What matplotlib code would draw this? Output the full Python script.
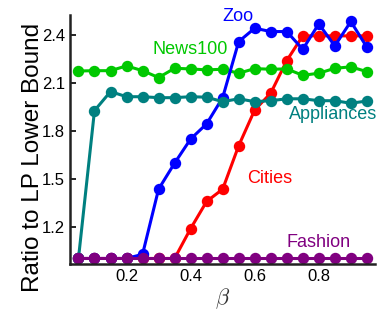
import numpy as np
import matplotlib
matplotlib.use("Agg")
import matplotlib.pyplot as plt

plt.rcParams['font.family'] = ['Liberation Sans', 'DejaVu Sans']
plt.rcParams['mathtext.fontset'] = 'cm'

beta = [0.05, 0.10, 0.15, 0.20, 0.25, 0.30, 0.35, 0.40, 0.45, 0.50,
        0.55, 0.60, 0.65, 0.70, 0.75, 0.80, 0.85, 0.90, 0.95]

cities = [1.0, 1.0, 1.0, 1.0, 1.0, 1.0, 1.0, 1.187, 1.357, 1.434,
          1.706, 1.93, 2.035, 2.239, 2.394, 2.394, 2.394, 2.394, 2.394]
news100 = [2.174, 2.176, 2.176, 2.206, 2.176, 2.133, 2.191, 2.187, 2.181, 2.185,
           2.16, 2.189, 2.185, 2.187, 2.147, 2.16, 2.191, 2.2, 2.17]
zoo = [1.0, 1.0, 1.0, 1.0, 1.026, 1.434, 1.597, 1.748, 1.843, 2.007,
       2.358, 2.442, 2.421, 2.421, 2.31, 2.469, 2.331, 2.484, 2.323]
appliances = [1.0, 1.926, 2.045, 2.013, 2.013, 2.007, 2.007, 2.013, 2.01, 1.982,
              2.0, 1.982, 1.988, 2.0, 2.0, 1.988, 1.988, 1.972, 1.986]
fashion = [1.0] * 19

# name, values, colour, label position (data coords)
series = [
    ("Cities", cities, "#ff0000", (0.648, 1.498)),
    ("News100", news100, "#00c800", (0.398, 2.306)),
    ("Zoo", zoo, "#0000ff", (0.548, 2.513)),
    ("Appliances", appliances, "#008080", (0.845, 1.899)),
    ("Fashion", fashion, "#800080", (0.798, 1.099)),
]

fig = plt.figure(figsize=(3.9, 3.25), dpi=100)
ax = fig.add_axes([0.179, 0.188, 0.783, 0.766])

for name, vals, col, (tx, ty) in series:
    ax.plot(beta, vals, '-o', color=col, lw=2.2, ms=7.2, mec=col)
    ax.text(tx, ty, name, color=col, fontsize=13, ha='center', va='center',
            zorder=10, clip_on=False)

ax.set_xlim(0.023, 0.976)
ax.set_ylim(0.966, 2.525)
ax.set_xticks([0.2, 0.4, 0.6, 0.8])
ax.set_yticks([1.2, 1.5, 1.8, 2.1, 2.4])
ax.set_xticklabels(["0.2", "0.4", "0.6", "0.8"])
ax.set_yticklabels(["1.2", "1.5", "1.8", "2.1", "2.4"])
ax.tick_params(direction='in', length=4, width=1.2, labelsize=12, colors='black')

for s in ['top', 'right']:
    ax.spines[s].set_visible(False)
for s in ['left', 'bottom']:
    ax.spines[s].set_linewidth(1.8)
    ax.spines[s].set_color('#222222')

ax.set_ylabel("Ratio to LP Lower Bound", fontsize=17.5)
ax.yaxis.set_label_coords(-0.085, 0.426)
ax.set_xlabel(r"$\beta$", fontsize=16, color='#333333', labelpad=2)

fig.savefig("out.png", dpi=100)
